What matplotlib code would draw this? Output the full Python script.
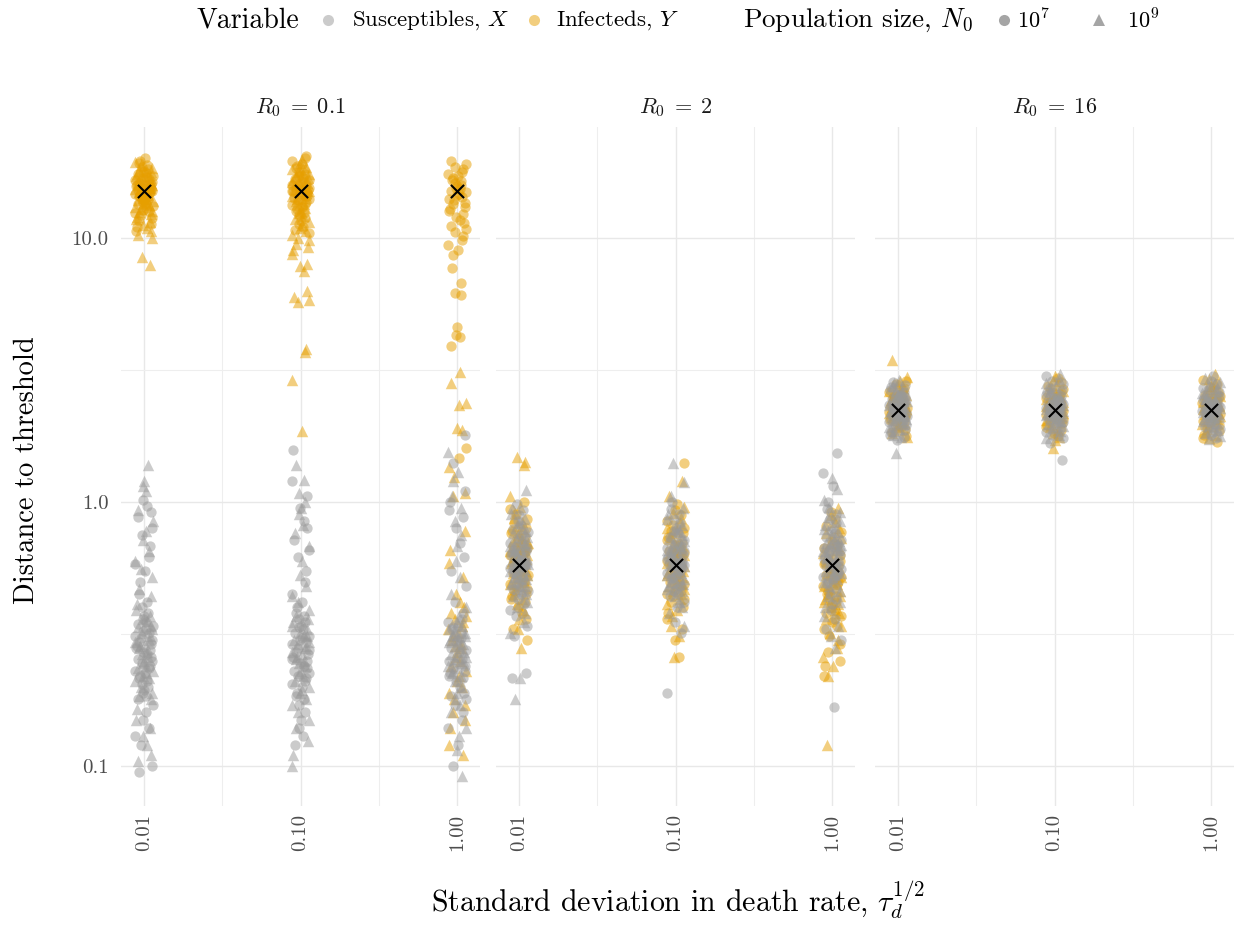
import matplotlib
matplotlib.use("Agg")
import matplotlib.pyplot as plt
from matplotlib.lines import Line2D
import numpy as np

# ---------------- data ----------------
R0_LABELS = [r"$R_0\;=\;0.1$", r"$R_0\;=\;2$", r"$R_0\;=\;16$"]
TAU = [0.01, 0.10, 1.00]
TAU_LABELS = ["0.01", "0.10", "1.00"]
REF = [15.1, 0.578, 2.23]          # black x marker per R0 panel

# Panel R0 = 0.1 ----------------------------------------------------
X_a1_n7 = [1.02, 0.97, 0.92, 0.88, 0.80, 0.75, 0.68, 0.62, 0.58, 0.55, 0.50, 0.45, 0.42, 0.40, 0.38, 0.37, 0.36, 0.35, 0.345, 0.34, 0.33, 0.325, 0.32, 0.31, 0.305, 0.30, 0.295, 0.29, 0.285, 0.28, 0.275, 0.27, 0.265, 0.26, 0.255, 0.25, 0.245, 0.24, 0.235, 0.23, 0.225, 0.22, 0.215, 0.21, 0.205, 0.20, 0.195, 0.19, 0.185, 0.18, 0.17, 0.16, 0.15, 0.14, 0.13, 0.12, 0.10, 0.095]
X_a1_n9 = [1.38, 1.2, 1.15, 1.1, 0.93, 0.85, 0.78, 0.72, 0.65, 0.60, 0.56, 0.52, 0.47, 0.44, 0.41, 0.39, 0.37, 0.36, 0.355, 0.34, 0.335, 0.33, 0.32, 0.31, 0.30, 0.295, 0.29, 0.285, 0.28, 0.27, 0.265, 0.26, 0.25, 0.245, 0.24, 0.235, 0.23, 0.225, 0.22, 0.215, 0.21, 0.20, 0.19, 0.185, 0.18, 0.165, 0.15, 0.14, 0.13, 0.12, 0.11, 0.105]
X_a2_n7 = [1.57, 1.2, 1.05, 0.95, 0.85, 0.80, 0.72, 0.66, 0.62, 0.55, 0.50, 0.45, 0.42, 0.40, 0.38, 0.37, 0.36, 0.35, 0.34, 0.335, 0.33, 0.32, 0.31, 0.305, 0.30, 0.295, 0.29, 0.28, 0.275, 0.27, 0.265, 0.26, 0.255, 0.25, 0.245, 0.24, 0.235, 0.23, 0.225, 0.22, 0.215, 0.21, 0.205, 0.20, 0.19, 0.185, 0.18, 0.17, 0.16, 0.15, 0.14, 0.13, 0.12]
X_a2_n9 = [1.38, 1.21, 1.08, 1.0, 0.95, 0.9, 0.82, 0.76, 0.68, 0.60, 0.53, 0.48, 0.44, 0.42, 0.39, 0.37, 0.36, 0.35, 0.34, 0.33, 0.32, 0.315, 0.31, 0.30, 0.295, 0.29, 0.285, 0.28, 0.27, 0.265, 0.26, 0.255, 0.25, 0.245, 0.24, 0.23, 0.225, 0.22, 0.21, 0.20, 0.195, 0.19, 0.18, 0.17, 0.16, 0.15, 0.14, 0.125, 0.11, 0.10]
X_a3_n7 = [1.8, 1.4, 1.1, 1.0, 0.93, 0.88, 0.8, 0.7, 0.62, 0.55, 0.48, 0.42, 0.38, 0.36, 0.35, 0.34, 0.335, 0.33, 0.32, 0.31, 0.305, 0.30, 0.295, 0.29, 0.28, 0.275, 0.27, 0.26, 0.255, 0.25, 0.245, 0.24, 0.235, 0.23, 0.225, 0.22, 0.215, 0.21, 0.20, 0.19, 0.185, 0.18, 0.17, 0.16, 0.15, 0.14, 0.12, 0.1]
X_a3_n9 = [1.55, 1.3, 1.2, 1.05, 0.95, 0.85, 0.75, 0.68, 0.6, 0.52, 0.45, 0.40, 0.37, 0.35, 0.34, 0.33, 0.325, 0.32, 0.315, 0.31, 0.30, 0.295, 0.29, 0.285, 0.28, 0.27, 0.265, 0.26, 0.255, 0.25, 0.245, 0.24, 0.235, 0.23, 0.225, 0.22, 0.21, 0.20, 0.19, 0.18, 0.17, 0.16, 0.14, 0.13, 0.115, 0.092]
Y_a1_n7 = [20.0, 19.6, 19.2, 18.9, 18.6, 18.3, 18.0, 17.8, 17.6, 17.4, 17.2, 17.0, 16.9, 16.7, 16.6, 16.4, 16.3, 16.1, 16.0, 15.9, 15.7, 15.6, 15.5, 15.4, 15.3, 15.2, 15.1, 15.0, 14.9, 14.8, 14.7, 14.6, 14.5, 14.4, 14.3, 14.1, 14.0, 13.9, 13.7, 13.6, 13.4, 13.2, 13.0, 12.8, 12.6, 12.4, 12.2, 11.9, 11.6, 11.3, 11.0, 10.6]
Y_a1_n9 = [19.4, 18.9, 18.4, 18.0, 17.7, 17.4, 17.1, 16.8, 16.6, 16.4, 16.2, 16.0, 15.8, 15.7, 15.5, 15.4, 15.3, 15.1, 15.0, 14.9, 14.8, 14.6, 14.5, 14.4, 14.2, 14.1, 13.9, 13.8, 13.6, 13.4, 13.3, 13.1, 12.9, 12.7, 12.5, 12.3, 12.0, 11.8, 11.5, 11.2, 10.9, 10.6, 10.3, 10.0, 8.5, 7.9]
Y_a2_n7 = [20.5, 20.0, 19.5, 19.1, 18.7, 18.4, 18.1, 17.8, 17.5, 17.3, 17.1, 16.9, 16.7, 16.5, 16.3, 16.1, 16.0, 15.8, 15.7, 15.5, 15.4, 15.2, 15.1, 15.0, 14.8, 14.7, 14.5, 14.4, 14.2, 14.1, 13.9, 13.7, 13.5, 13.3, 13.1, 12.9, 12.7, 12.4, 12.2, 11.9, 11.6, 11.3, 11.0, 10.7, 10.4]
Y_a2_n9 = [19.8, 19.2, 18.6, 18.2, 17.8, 17.4, 17.1, 16.8, 16.5, 16.3, 16.1, 15.9, 15.7, 15.5, 15.3, 15.1, 15.0, 14.8, 14.6, 14.4, 14.2, 14.0, 13.8, 13.5, 13.3, 13.0, 12.7, 12.4, 12.1, 11.8, 11.5, 11.2, 10.9, 10.6, 10.3, 10.0, 9.8, 9.5, 9.2, 9.0, 8.7, 8.0, 7.8, 7.5, 6.3, 6.0, 5.8, 5.7, 3.8, 3.7, 2.9, 1.85]
Y_a3_n7 = [19.5, 19.0, 18.6, 18.2, 17.8, 17.5, 17.2, 16.9, 16.6, 16.4, 16.1, 15.9, 15.7, 15.5, 15.3, 15.1, 14.9, 14.7, 14.5, 14.3, 14.1, 13.9, 13.6, 13.4, 13.1, 12.9, 12.6, 12.3, 12.0, 11.7, 11.4, 11.1, 10.8, 10.5, 10.2, 9.8, 9.4, 9.0, 8.6, 7.7, 6.75, 6.2, 6.1, 4.6, 4.3, 4.2, 3.9, 1.6, 1.47]
Y_a3_n9 = [3.1, 2.82, 2.37, 2.33, 1.9, 1.87, 1.36, 1.24, 1.08, 1.05, 0.78, 0.66, 0.59, 0.52, 0.45, 0.42, 0.40, 0.38, 0.37, 0.36, 0.35, 0.34, 0.33, 0.32, 0.31, 0.30, 0.29, 0.285, 0.28, 0.27, 0.26, 0.25, 0.24, 0.23, 0.22, 0.21, 0.20, 0.19, 0.18, 0.17, 0.16, 0.15, 0.14, 0.12, 0.11]

# Panel R0 = 2 ------------------------------------------------------
X_b1_n7 = [0.98, 0.93, 0.89, 0.85, 0.82, 0.79, 0.77, 0.75, 0.73, 0.71, 0.70, 0.68, 0.67, 0.66, 0.65, 0.64, 0.63, 0.62, 0.61, 0.60, 0.595, 0.59, 0.585, 0.58, 0.575, 0.57, 0.565, 0.56, 0.55, 0.54, 0.53, 0.52, 0.51, 0.50, 0.49, 0.48, 0.47, 0.46, 0.45, 0.43, 0.41, 0.39, 0.37, 0.34, 0.31, 0.225, 0.215]
X_b1_n9 = [1.11, 0.95, 0.90, 0.86, 0.83, 0.80, 0.78, 0.76, 0.74, 0.72, 0.70, 0.69, 0.68, 0.67, 0.66, 0.65, 0.64, 0.63, 0.62, 0.61, 0.60, 0.59, 0.585, 0.58, 0.575, 0.57, 0.56, 0.55, 0.54, 0.53, 0.52, 0.51, 0.50, 0.49, 0.48, 0.47, 0.46, 0.45, 0.44, 0.42, 0.40, 0.38, 0.35, 0.32, 0.215, 0.18]
X_b2_n7 = [1.0, 0.94, 0.90, 0.86, 0.83, 0.80, 0.78, 0.76, 0.74, 0.72, 0.70, 0.69, 0.68, 0.67, 0.66, 0.65, 0.64, 0.63, 0.62, 0.61, 0.60, 0.595, 0.59, 0.585, 0.58, 0.575, 0.57, 0.56, 0.55, 0.54, 0.53, 0.52, 0.51, 0.50, 0.49, 0.48, 0.47, 0.46, 0.45, 0.44, 0.42, 0.40, 0.35, 0.32, 0.19]
X_b2_n9 = [1.40, 1.19, 1.05, 0.95, 0.90, 0.86, 0.82, 0.79, 0.77, 0.75, 0.73, 0.71, 0.70, 0.68, 0.67, 0.66, 0.65, 0.64, 0.63, 0.62, 0.61, 0.60, 0.59, 0.585, 0.58, 0.575, 0.57, 0.56, 0.55, 0.54, 0.53, 0.52, 0.51, 0.50, 0.49, 0.48, 0.47, 0.46, 0.44, 0.42, 0.40, 0.38, 0.34]
X_b3_n7 = [1.53, 1.29, 1.15, 1.0, 0.94, 0.90, 0.86, 0.83, 0.80, 0.78, 0.76, 0.74, 0.72, 0.70, 0.69, 0.68, 0.67, 0.66, 0.65, 0.64, 0.63, 0.62, 0.61, 0.60, 0.59, 0.58, 0.575, 0.57, 0.56, 0.55, 0.54, 0.53, 0.52, 0.51, 0.50, 0.49, 0.47, 0.45, 0.43, 0.41, 0.39, 0.36, 0.33, 0.30, 0.167]
X_b3_n9 = [1.23, 1.12, 1.02, 0.96, 0.92, 0.88, 0.85, 0.82, 0.79, 0.77, 0.75, 0.73, 0.71, 0.70, 0.69, 0.68, 0.67, 0.66, 0.65, 0.64, 0.63, 0.62, 0.61, 0.60, 0.59, 0.58, 0.57, 0.56, 0.55, 0.54, 0.53, 0.52, 0.51, 0.50, 0.48, 0.46, 0.44, 0.42, 0.40, 0.37, 0.34, 0.31, 0.28]
Y_b1_n7 = [1.0, 0.94, 0.90, 0.86, 0.83, 0.80, 0.78, 0.76, 0.74, 0.72, 0.70, 0.69, 0.68, 0.67, 0.66, 0.65, 0.64, 0.63, 0.62, 0.61, 0.60, 0.59, 0.58, 0.575, 0.57, 0.56, 0.55, 0.54, 0.53, 0.52, 0.51, 0.50, 0.49, 0.48, 0.47, 0.46, 0.45, 0.44, 0.43, 0.42, 0.40, 0.38, 0.36, 0.33, 0.30]
Y_b1_n9 = [1.48, 1.42, 1.38, 1.05, 0.96, 0.91, 0.87, 0.84, 0.81, 0.79, 0.77, 0.75, 0.73, 0.71, 0.70, 0.68, 0.67, 0.66, 0.65, 0.64, 0.63, 0.62, 0.61, 0.60, 0.59, 0.58, 0.57, 0.56, 0.55, 0.54, 0.53, 0.52, 0.51, 0.50, 0.49, 0.48, 0.47, 0.45, 0.43, 0.41, 0.39, 0.36, 0.33, 0.28]
Y_b2_n7 = [1.40, 0.98, 0.93, 0.89, 0.85, 0.82, 0.80, 0.78, 0.76, 0.74, 0.72, 0.70, 0.69, 0.67, 0.66, 0.65, 0.64, 0.63, 0.62, 0.61, 0.60, 0.59, 0.58, 0.57, 0.56, 0.55, 0.54, 0.53, 0.52, 0.51, 0.50, 0.49, 0.48, 0.47, 0.46, 0.45, 0.44, 0.43, 0.42, 0.40, 0.38, 0.36, 0.33, 0.30, 0.26]
Y_b2_n9 = [1.20, 1.05, 0.96, 0.91, 0.87, 0.83, 0.80, 0.78, 0.76, 0.74, 0.72, 0.70, 0.68, 0.67, 0.66, 0.65, 0.64, 0.63, 0.62, 0.61, 0.60, 0.59, 0.58, 0.57, 0.56, 0.55, 0.54, 0.53, 0.52, 0.51, 0.50, 0.49, 0.48, 0.47, 0.46, 0.45, 0.43, 0.41, 0.39, 0.37, 0.34, 0.31, 0.26]
Y_b3_n7 = [0.92, 0.86, 0.81, 0.77, 0.74, 0.71, 0.69, 0.67, 0.65, 0.63, 0.61, 0.60, 0.59, 0.58, 0.57, 0.56, 0.55, 0.54, 0.53, 0.52, 0.51, 0.50, 0.49, 0.48, 0.47, 0.46, 0.45, 0.44, 0.43, 0.42, 0.41, 0.40, 0.39, 0.38, 0.37, 0.36, 0.35, 0.34, 0.33, 0.31, 0.29, 0.27, 0.25, 0.24, 0.22]
Y_b3_n9 = [0.95, 0.89, 0.84, 0.80, 0.76, 0.73, 0.70, 0.68, 0.66, 0.64, 0.62, 0.61, 0.60, 0.59, 0.58, 0.57, 0.56, 0.55, 0.54, 0.53, 0.52, 0.51, 0.50, 0.49, 0.48, 0.47, 0.46, 0.45, 0.44, 0.43, 0.42, 0.41, 0.40, 0.39, 0.38, 0.36, 0.34, 0.32, 0.30, 0.28, 0.26, 0.24, 0.22, 0.12]

# Panel R0 = 16 -----------------------------------------------------
X_c1_n7 = [2.85, 2.78, 2.72, 2.66, 2.61, 2.57, 2.53, 2.49, 2.46, 2.43, 2.40, 2.37, 2.35, 2.33, 2.31, 2.29, 2.27, 2.25, 2.23, 2.21, 2.19, 2.17, 2.15, 2.13, 2.11, 2.09, 2.07, 2.04, 2.01, 1.98, 1.95, 1.92, 1.88, 1.84, 1.80, 1.76, 1.72]
X_c1_n9 = [2.9, 2.82, 2.75, 2.69, 2.64, 2.59, 2.55, 2.51, 2.47, 2.44, 2.41, 2.38, 2.36, 2.34, 2.32, 2.30, 2.28, 2.26, 2.24, 2.22, 2.20, 2.18, 2.16, 2.14, 2.12, 2.10, 2.07, 2.04, 2.01, 1.97, 1.93, 1.89, 1.85, 1.80, 1.76, 1.53]
X_c2_n7 = [3.0, 2.88, 2.79, 2.71, 2.65, 2.60, 2.55, 2.51, 2.47, 2.44, 2.41, 2.38, 2.35, 2.33, 2.31, 2.29, 2.27, 2.25, 2.23, 2.21, 2.19, 2.17, 2.15, 2.13, 2.10, 2.07, 2.04, 2.01, 1.97, 1.93, 1.89, 1.84, 1.79, 1.74, 1.67, 1.44]
X_c2_n9 = [3.05, 2.92, 2.82, 2.74, 2.67, 2.61, 2.56, 2.52, 2.48, 2.45, 2.42, 2.39, 2.36, 2.34, 2.32, 2.30, 2.28, 2.26, 2.24, 2.22, 2.20, 2.18, 2.16, 2.14, 2.11, 2.08, 2.05, 2.02, 1.98, 1.94, 1.90, 1.85, 1.80, 1.75]
X_c3_n7 = [3.0, 2.88, 2.79, 2.71, 2.65, 2.60, 2.55, 2.51, 2.47, 2.44, 2.41, 2.38, 2.35, 2.33, 2.31, 2.29, 2.27, 2.25, 2.23, 2.21, 2.19, 2.17, 2.15, 2.13, 2.10, 2.07, 2.04, 2.01, 1.97, 1.93, 1.89, 1.84, 1.79, 1.75]
X_c3_n9 = [2.95, 2.85, 2.77, 2.70, 2.64, 2.59, 2.54, 2.50, 2.46, 2.43, 2.40, 2.37, 2.35, 2.33, 2.31, 2.29, 2.27, 2.25, 2.23, 2.21, 2.19, 2.17, 2.15, 2.12, 2.09, 2.06, 2.03, 2.00, 1.96, 1.92, 1.88, 1.83, 1.78, 1.73]
Y_c1_n7 = [2.88, 2.79, 2.71, 2.65, 2.60, 2.55, 2.51, 2.47, 2.44, 2.41, 2.38, 2.35, 2.33, 2.31, 2.29, 2.27, 2.25, 2.23, 2.21, 2.19, 2.17, 2.15, 2.13, 2.10, 2.07, 2.04, 2.01, 1.97, 1.93, 1.89, 1.84, 1.78]
Y_c1_n9 = [3.45, 2.97, 2.86, 2.77, 2.70, 2.64, 2.59, 2.54, 2.50, 2.46, 2.43, 2.40, 2.37, 2.34, 2.32, 2.30, 2.28, 2.26, 2.24, 2.22, 2.20, 2.18, 2.16, 2.13, 2.10, 2.07, 2.04, 2.00, 1.96, 1.92, 1.87, 1.82, 1.76]
Y_c2_n7 = [2.95, 2.84, 2.75, 2.68, 2.62, 2.57, 2.52, 2.48, 2.45, 2.42, 2.39, 2.36, 2.34, 2.32, 2.30, 2.28, 2.26, 2.24, 2.22, 2.20, 2.18, 2.16, 2.13, 2.10, 2.07, 2.04, 2.00, 1.96, 1.92, 1.87, 1.82, 1.78]
Y_c2_n9 = [3.0, 2.88, 2.78, 2.70, 2.64, 2.58, 2.53, 2.49, 2.45, 2.42, 2.39, 2.36, 2.34, 2.32, 2.30, 2.28, 2.26, 2.24, 2.22, 2.20, 2.17, 2.14, 2.11, 2.08, 2.05, 2.01, 1.97, 1.93, 1.88, 1.83, 1.77, 1.72, 1.6]
Y_c3_n7 = [2.9, 2.81, 2.73, 2.66, 2.60, 2.55, 2.51, 2.47, 2.44, 2.41, 2.38, 2.35, 2.33, 2.31, 2.29, 2.27, 2.25, 2.23, 2.21, 2.19, 2.17, 2.15, 2.12, 2.09, 2.06, 2.03, 1.99, 1.95, 1.90, 1.85, 1.79, 1.74, 1.69]
Y_c3_n9 = [3.05, 2.93, 2.83, 2.75, 2.68, 2.62, 2.57, 2.52, 2.48, 2.45, 2.42, 2.39, 2.36, 2.34, 2.32, 2.30, 2.28, 2.26, 2.24, 2.22, 2.20, 2.18, 2.15, 2.12, 2.09, 2.06, 2.02, 1.98, 1.94, 1.89, 1.84, 1.79, 1.74]

# groups: (panel, tau index, variable, N0, values)
GROUPS = [
    (0, 0, "Y", 7, Y_a1_n7), (0, 0, "Y", 9, Y_a1_n9), (0, 1, "Y", 7, Y_a2_n7), (0, 1, "Y", 9, Y_a2_n9),
    (0, 2, "Y", 7, Y_a3_n7), (0, 2, "Y", 9, Y_a3_n9),
    (0, 0, "X", 7, X_a1_n7), (0, 0, "X", 9, X_a1_n9), (0, 1, "X", 7, X_a2_n7), (0, 1, "X", 9, X_a2_n9),
    (0, 2, "X", 7, X_a3_n7), (0, 2, "X", 9, X_a3_n9),
    (1, 0, "Y", 7, Y_b1_n7), (1, 0, "Y", 9, Y_b1_n9), (1, 1, "Y", 7, Y_b2_n7), (1, 1, "Y", 9, Y_b2_n9),
    (1, 2, "Y", 7, Y_b3_n7), (1, 2, "Y", 9, Y_b3_n9),
    (1, 0, "X", 7, X_b1_n7), (1, 0, "X", 9, X_b1_n9), (1, 1, "X", 7, X_b2_n7), (1, 1, "X", 9, X_b2_n9),
    (1, 2, "X", 7, X_b3_n7), (1, 2, "X", 9, X_b3_n9),
    (2, 0, "Y", 7, Y_c1_n7), (2, 0, "Y", 9, Y_c1_n9), (2, 1, "Y", 7, Y_c2_n7), (2, 1, "Y", 9, Y_c2_n9),
    (2, 2, "Y", 7, Y_c3_n7), (2, 2, "Y", 9, Y_c3_n9),
    (2, 0, "X", 7, X_c1_n7), (2, 0, "X", 9, X_c1_n9), (2, 1, "X", 7, X_c2_n7), (2, 1, "X", 9, X_c2_n9),
    (2, 2, "X", 7, X_c3_n7), (2, 2, "X", 9, X_c3_n9),
]

# ---------------- style ----------------
COLORS = {"X": "#999999", "Y": "#E69F00"}
MARKERS = {7: "o", 9: "^"}
SIZES = {7: 55, 9: 68}
ALPHA = 0.5
# fixed horizontal jitter pattern (fraction of jitter width)
JITTER = [0.12, -0.63, 0.81, -0.22, 0.45, -0.91, 0.33, -0.41, 0.95, -0.75,
          0.61, 0.02, -0.30, 0.72, -0.52, 0.21, -0.86, 0.52, -0.12, 0.88,
          -0.66, 0.38, -0.04, 0.67, -0.95, 0.27, -0.47, 0.91, -0.18, 0.56, -0.08]
JW = 0.06   # decades

plt.rcParams["font.family"] = "cmr10"
plt.rcParams["mathtext.fontset"] = "cm"
plt.rcParams["axes.formatter.use_mathtext"] = True
plt.rcParams["axes.unicode_minus"] = False

W, H = 1238, 927
fig = plt.figure(figsize=(W / 100, H / 100), dpi=100)

left_px = [121, 496, 875]
pw = 359
top_px, bot_px = 127, 806
axes = []
for p in range(3):
    ax = fig.add_axes([left_px[p] / W, 1 - bot_px / H, pw / W, (bot_px - top_px) / H])
    axes.append(ax)
    ax.set_xscale("log")
    ax.set_yscale("log")
    ax.set_xlim(10 ** -2.146, 10 ** 0.146)
    ax.set_ylim(10 ** -1.151, 10 ** 1.42)
    for s in ax.spines.values():
        s.set_visible(False)
    ax.set_xticks(TAU)
    ax.set_xticklabels(TAU_LABELS, rotation=90, fontsize=15, color="#4d4d4d")
    ax.set_xticks([10 ** -1.5, 10 ** -0.5], minor=True)
    ax.set_xticklabels([], minor=True)
    ax.set_yticks([0.1, 1.0, 10.0])
    ax.set_yticks([10 ** -0.5, 10 ** 0.5], minor=True)
    ax.set_yticklabels([], minor=True)
    if p == 0:
        ax.set_yticklabels(["0.1", "1.0", "10.0"], fontsize=15, color="#4d4d4d")
    else:
        ax.set_yticklabels([])
    ax.tick_params(which="both", length=0)
    ax.tick_params(axis="y", pad=9)
    ax.tick_params(axis="x", pad=6)
    ax.grid(True, which="major", color="#e8e8e8", lw=1.0)
    ax.grid(True, which="minor", color="#eeeeee", lw=0.8)
    ax.set_axisbelow(True)
    fig.text((left_px[p] + pw / 2) / W, 1 - 108 / H, R0_LABELS[p],
             ha="center", va="center", fontsize=16, color="#1a1a1a")

for gi, (p, t, var, n0, vals) in enumerate(GROUPS):
    ax = axes[p]
    k = len(JITTER)
    off = np.array([JITTER[(i * 7 + gi * 5) % k] for i in range(len(vals))])
    xs = TAU[t] * 10 ** (JW * off)
    ax.scatter(xs, vals, s=SIZES[n0], marker=MARKERS[n0], c=COLORS[var],
               alpha=ALPHA, linewidths=0, zorder=2)

for p in range(3):
    axes[p].scatter(TAU, [REF[p]] * 3, marker="x", s=90, c="black",
                    linewidths=1.5, zorder=5)

fig.text(27 / W, 1 - 470 / H, "Distance to threshold", rotation=90,
         ha="center", va="center", fontsize=20.5)
fig.text(678 / W, 1 - 900 / H, r"Standard deviation in death rate, $\tau_d^{1/2}$",
         ha="center", va="center", fontsize=21.5)

# ---------------- legend ----------------
ly = 1 - 20 / H
def mk(xpx, marker, color, size):
    fig.add_artist(Line2D([xpx / W], [ly], marker=marker, color=color, alpha=ALPHA,
                          markersize=size, markeredgewidth=0, linestyle="none",
                          transform=fig.transFigure))

fig.text(196 / W, ly, "Variable", ha="left", va="center", fontsize=20)
mk(328, "o", COLORS["X"], 8)
fig.text(352 / W, ly, r"Susceptibles, $X$", ha="left", va="center", fontsize=16.5)
mk(534, "o", COLORS["Y"], 8)
fig.text(556 / W, ly, r"Infecteds, $Y$", ha="left", va="center", fontsize=16.5)
fig.text(743 / W, ly, r"Population size, $N_0$", ha="left", va="center", fontsize=19.5)
mk(1004, "o", "#4d4d4d", 8)
fig.text(1017 / W, ly, r"$10^7$", ha="left", va="center", fontsize=16)
mk(1099, "^", "#4d4d4d", 9)
fig.text(1127 / W, ly, r"$10^9$", ha="left", va="center", fontsize=16)

fig.savefig("out.png", dpi=100)
